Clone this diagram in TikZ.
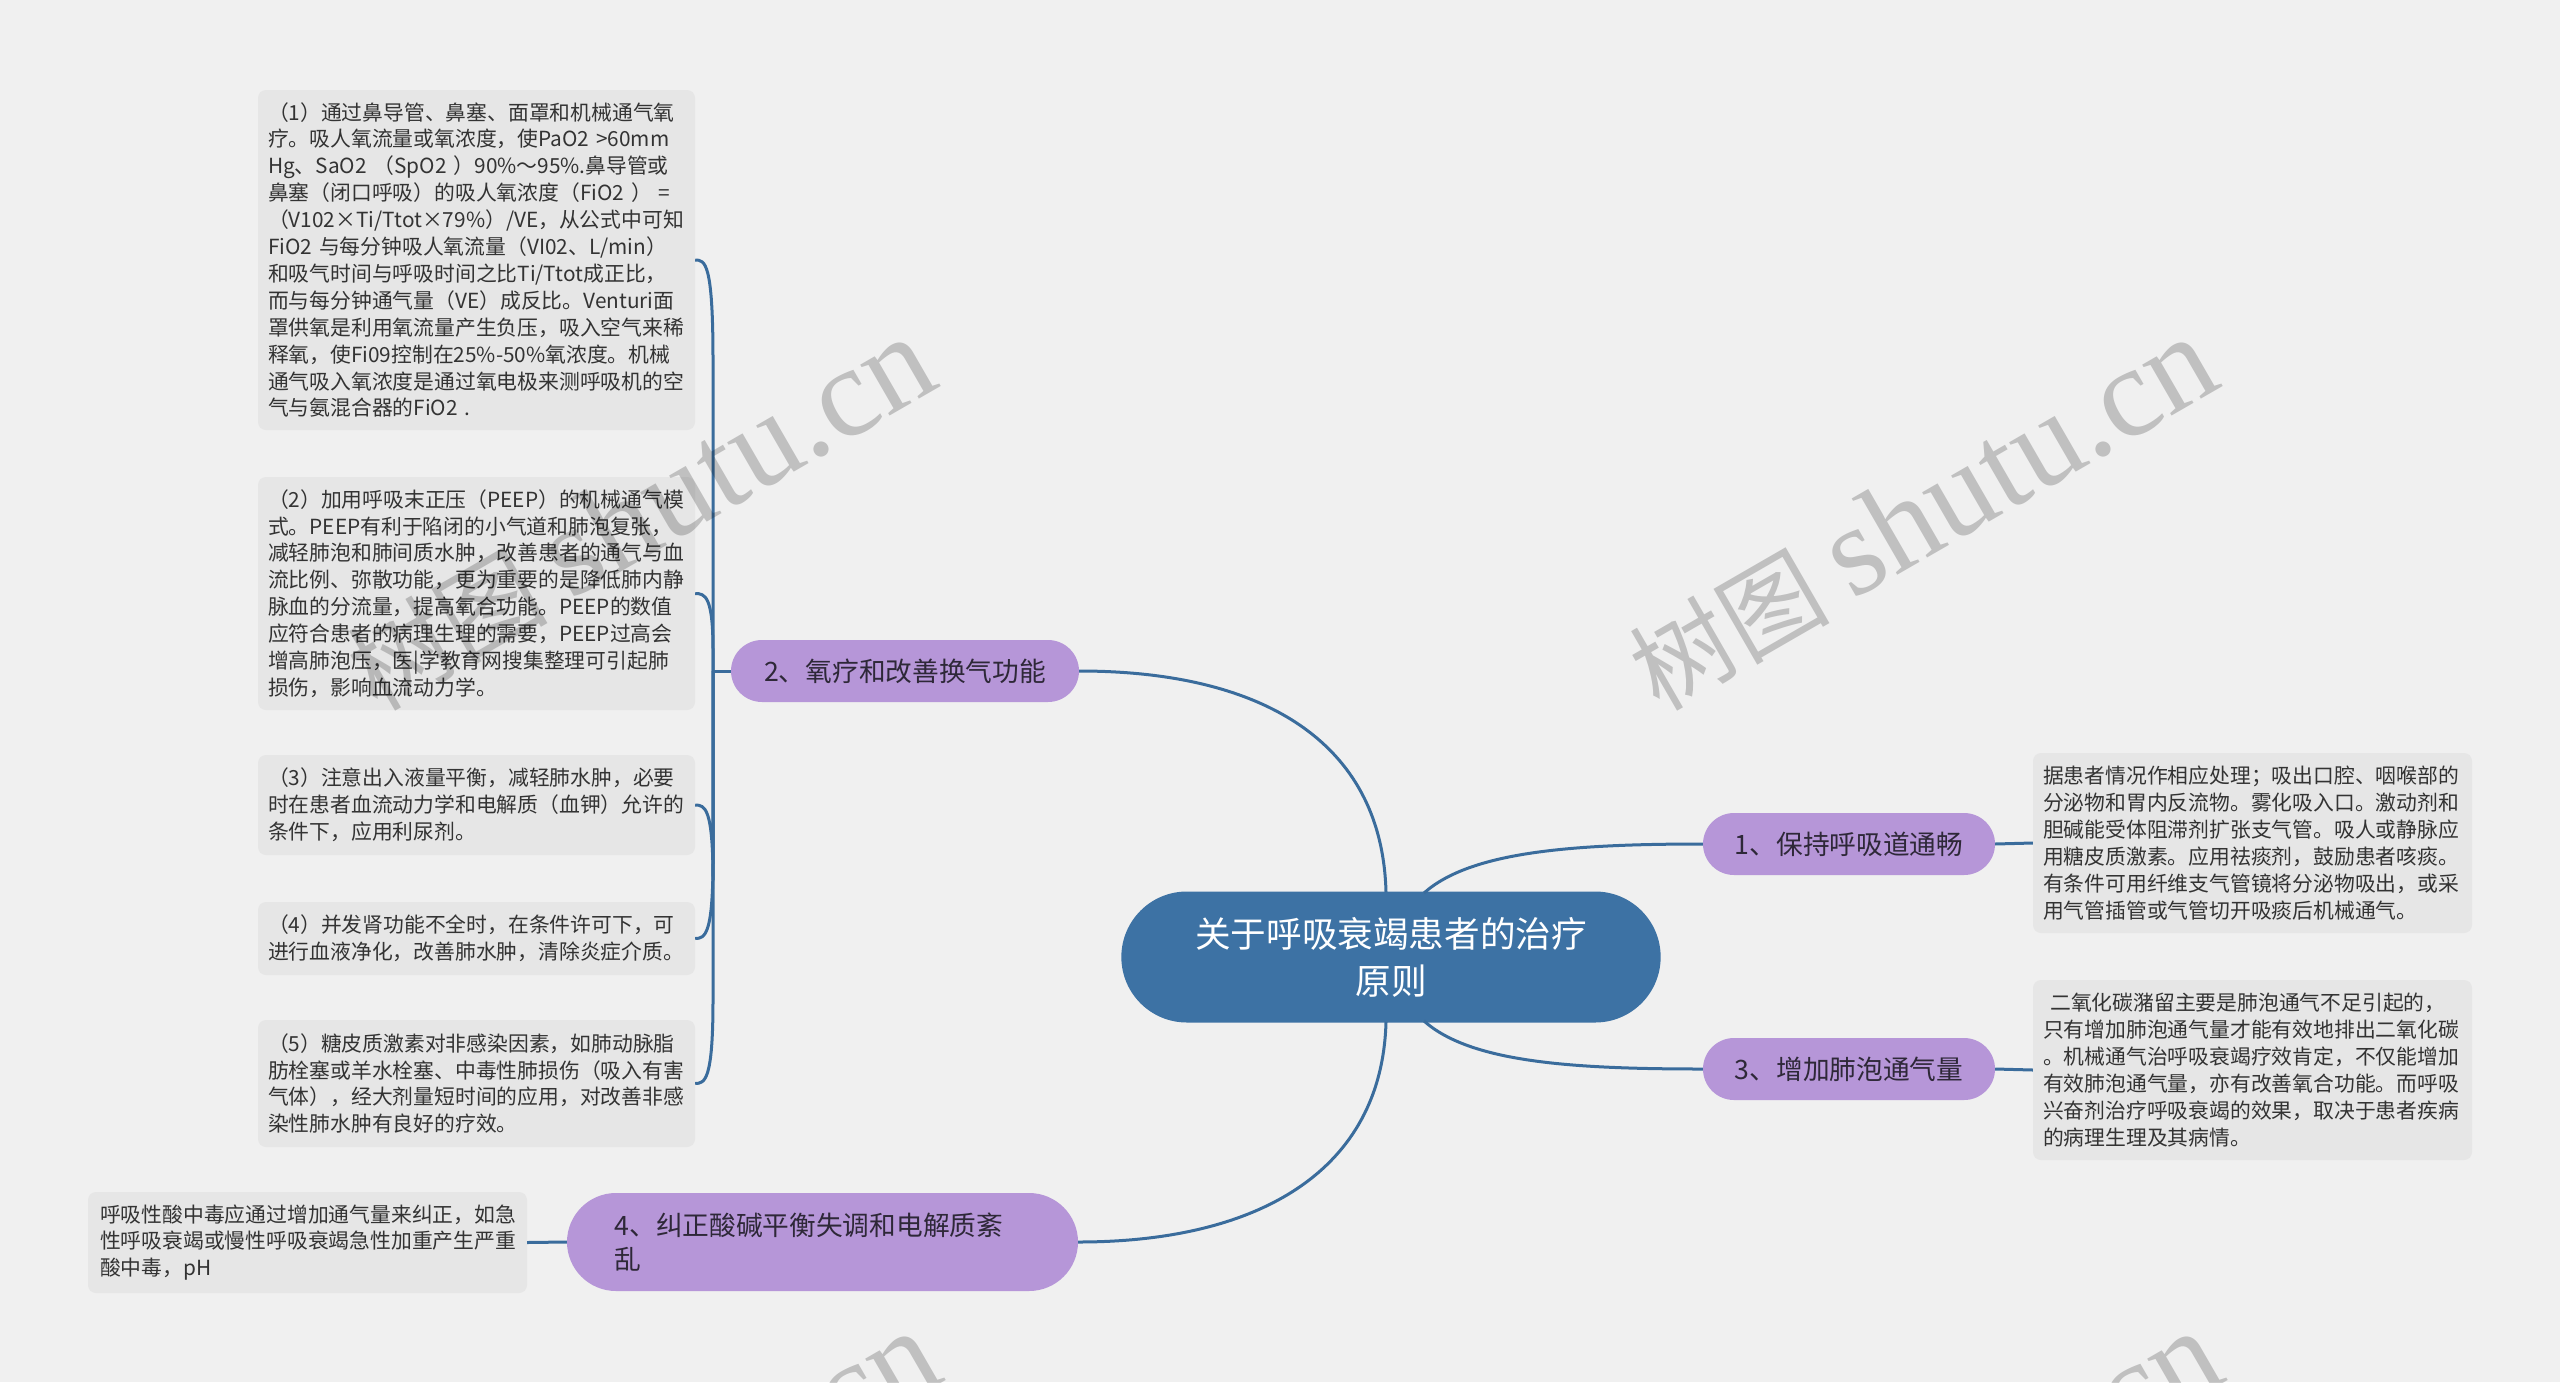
\documentclass[tikz,border=0pt]{standalone}
\usepackage{fontspec}
\setmainfont{Noto Sans CJK SC}
\newfontfamily\wmfont{Liberation Serif}
\usetikzlibrary{calc,shapes.misc}
\definecolor{bgc}{HTML}{F0F0F0}
\definecolor{leafc}{HTML}{E6E6E6}
\definecolor{purp}{HTML}{B696D8}
\definecolor{cblue}{HTML}{3D72A4}
\definecolor{linec}{HTML}{3A6C9C}
\definecolor{txt}{HTML}{333333}
\definecolor{btxt}{HTML}{2E2838}
\tikzset{
  leaf/.style={fill=leafc, rounded corners=8pt, inner xsep=10pt, inner ysep=0pt,
    align=left, text width=417pt, font=\fontsize{20.8}{26.9}\selectfont, text=txt},
  rleaf/.style={leaf, text width=419pt},
  branch/.style={rounded rectangle, fill=purp, minimum height=62pt, inner xsep=0pt,
    font=\fontsize{26.7}{34}\selectfont, text=btxt},
  centerbox/.style={rounded rectangle, fill=cblue, minimum width=546pt, minimum height=131pt,
    text=white, align=center, font=\fontsize{35.6}{47}\selectfont},
  conn/.style={draw=linec, line width=3pt},
  wm/.style={font=\fontsize{100}{100}\selectfont, text=black, opacity=0.2, rotate=30}
}
\begin{document}
\begin{tikzpicture}[x=1pt,y=-1pt]
\fill[bgc] (0,0) rectangle (2560,1382);
\useasboundingbox (0,0) rectangle (2560,1382);
\begin{scope}
\clip (0,0) rectangle (2560,1382);

% center
\node[centerbox] (c) at (1391,957) {关于呼吸衰竭患者的治疗\\原则};
\coordinate (cTL) at (1386,892);
\coordinate (cTR) at (1424,893);
\coordinate (cBL) at (1386,1022);
\coordinate (cBR) at (1424,1021);

% branches
\node[branch, minimum width=348pt] (b2) at (905,671) {2、氧疗和改善换气功能};
\node[branch, minimum width=292pt] (b1) at (1849,844) {1、保持呼吸道通畅};
\node[branch, minimum width=292pt] (b3) at (1849,1069) {3、增加肺泡通气量};
\node[branch, minimum width=511pt, minimum height=98pt, text width=416pt, align=left] (b4) at (822.5,1242) {4、纠正酸碱平衡失调和电解质紊\\乱};

% left leaves
\node[leaf, minimum height=340pt] (l1) at (476.5,260) {（1）通过鼻导管、鼻塞、面罩和机械通气氧\\疗。吸人氧流量或氧浓度，使PaO2~>60mm\\Hg、SaO2~（SpO2~）90\%～95\%.鼻导管或\\鼻塞（闭口呼吸）的吸人氧浓度（FiO2~）~=\\（V102×Ti/Ttot×79\%）/VE，从公式中可知\\FiO2~与每分钟吸人氧流量（VI02、L/min）\\和吸气时间与呼吸时间之比Ti/Ttot成正比，\\而与每分钟通气量（VE）成反比。Venturi面\\罩供氧是利用氧流量产生负压，吸入空气来稀\\释氧，使Fi09控制在25\%-50\%氧浓度。机械\\通气吸入氧浓度是通过氧电极来测呼吸机的空\\气与氨混合器的FiO2~.};
\node[leaf, minimum height=233pt] (l2) at (476.5,593.5) {（2）加用呼吸末正压（PEEP）的机械通气模\\式。PEEP有利于陷闭的小气道和肺泡复张，\\减轻肺泡和肺间质水肿，改善患者的通气与血\\流比例、弥散功能，更为重要的是降低肺内静\\脉血的分流量，提高氧合功能。PEEP的数值\\应符合患者的病理生理的需要，PEEP过高会\\增高肺泡压，医|学教育网搜集整理可引起肺\\损伤，影响血流动力学。};
\node[leaf, minimum height=100pt] (l3) at (476.5,805) {（3）注意出入液量平衡，减轻肺水肿，必要\\时在患者血流动力学和电解质（血钾）允许的\\条件下，应用利尿剂。};
\node[leaf, minimum height=73pt] (l4) at (476.5,938.5) {（4）并发肾功能不全时，在条件许可下，可\\进行血液净化，改善肺水肿，清除炎症介质。};
\node[leaf, minimum height=127pt] (l5) at (476.5,1083.5) {（5）糖皮质激素对非感染因素，如肺动脉脂\\肪栓塞或羊水栓塞、中毒性肺损伤（吸入有害\\气体），经大剂量短时间的应用，对改善非感\\染性肺水肿有良好的疗效。};
\node[rleaf, minimum height=101pt, inner xsep=12pt, text width=415pt] (lb) at (307.5,1242.5) {呼吸性酸中毒应通过增加通气量来纠正，如急\\性呼吸衰竭或慢性呼吸衰竭急性加重产生严重\\酸中毒，pH};

% right leaves
\node[rleaf, minimum height=180pt] (r1) at (2252.5,843) {据患者情况作相应处理；吸出口腔、咽喉部的\\分泌物和胃内反流物。雾化吸入口。激动剂和\\胆碱能受体阻滞剂扩张支气管。吸人或静脉应\\用糖皮质激素。应用祛痰剂，鼓励患者咳痰。\\有条件可用纤维支气管镜将分泌物吸出，或采\\用气管插管或气管切开吸痰后机械通气。};
\node[rleaf, minimum height=180pt] (r2) at (2252.5,1070) {\hspace{0.35em}二氧化碳潴留主要是肺泡通气不足引起的，\\只有增加肺泡通气量才能有效地排出二氧化碳\\。机械通气治呼吸衰竭疗效肯定，不仅能增加\\有效肺泡通气量，亦有改善氧合功能。而呼吸\\兴奋剂治疗呼吸衰竭的效果，取决于患者疾病\\的病理生理及其病情。};

% connectors center -> branches
\draw[conn] (cTL) .. controls (1382,740) and (1260,671) .. (b2.east);
\draw[conn] (cBL) .. controls (1382,1170) and (1260,1242) .. (b4.east);
\draw[conn] (cTR) .. controls (1470,852) and (1570,844) .. (b1.west);
\draw[conn] (cBR) .. controls (1470,1062) and (1570,1069) .. (b3.west);

% branch 2 -> leaves
\coordinate (j2) at (713,671);
\draw[conn] (b2.west) -- (j2);
\draw[conn] (j2) -- (713,360) .. controls (713,262) and (705,260) .. (l1.east);
\draw[conn] (j2) -- (713,650) .. controls (713,596) and (705,593.5) .. (l2.east);
\draw[conn] (j2) -- (713,880) .. controls (713,808) and (705,805) .. (l3.east);
\draw[conn] (j2) -- (713,860) .. controls (713,935) and (705,938.5) .. (l4.east);
\draw[conn] (j2) -- (713,1000) .. controls (713,1080) and (705,1083.5) .. (l5.east);

% branches -> single leaves
\draw[conn] (b4.west) -- (lb.east);
\draw[conn] (b1.east) -- (r1.west);
\draw[conn] (b3.east) -- (r2.west);

% watermarks
\node[wm] (w1) at (640,514) {树图 {\wmfont\fontsize{128}{128}\selectfont shutu.cn}};
\node[wm] (w2) at (1922,514) {树图 {\wmfont\fontsize{128}{128}\selectfont shutu.cn}};
\node[wm] (w3) at (645,1508) {树图 {\wmfont\fontsize{128}{128}\selectfont shutu.cn}};
\node[wm] (w4) at (1927,1508) {树图 {\wmfont\fontsize{128}{128}\selectfont shutu.cn}};
\end{scope}
\end{tikzpicture}
\end{document}
